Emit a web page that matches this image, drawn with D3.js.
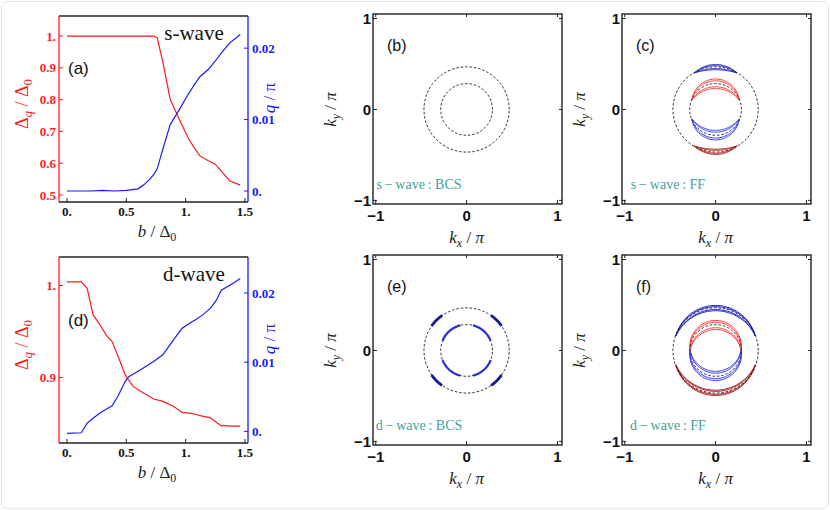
<!DOCTYPE html>
<html>
<head>
<meta charset="utf-8">
<script src="https://cdn.jsdelivr.net/npm/d3@7"></script>
<style>
  body { margin: 0; background: #fff; }
  text { font-family: "Liberation Serif", "DejaVu Serif", serif; }
  text.sans { font-family: "Liberation Sans", Arial, sans-serif; }
</style>
</head>
<body>
<svg id="fig" width="830" height="510"></svg>
<script>
// --- valeurs ---

// (a) s-wave : gap et q en fonction de b
const bS   = [0, 0.1, 0.2, 0.3, 0.4, 0.5, 0.6, 0.65, 0.7, 0.73, 0.76, 0.81, 0.87, 0.95, 1.02, 1.07, 1.12, 1.19, 1.25, 1.30, 1.37, 1.46];
const gapS = [1, 1, 1, 1, 1, 1, 1, 1, 1, 1, 0.995, 0.914, 0.80, 0.735, 0.68, 0.65, 0.623, 0.608, 0.597, 0.575, 0.545, 0.531];
const qS   = [0, 0, 0, 0.0001, 0, 0.0001, 0.0003, 0.0009, 0.0017, 0.0023, 0.0031, 0.006, 0.0093, 0.0115, 0.0135, 0.0148, 0.016, 0.017, 0.0182, 0.0193, 0.0207, 0.0219];

// (d) d-wave
const bD   = [0, 0.12, 0.17, 0.22, 0.28, 0.33, 0.38, 0.43, 0.49, 0.52, 0.56, 0.62, 0.73, 0.81, 0.90, 0.97, 1.05, 1.08, 1.14, 1.21, 1.26, 1.30, 1.40, 1.46];
const gapD = [1.004, 1.004, 0.997, 0.968, 0.957, 0.946, 0.939, 0.923, 0.903, 0.897, 0.890, 0.885, 0.8765, 0.874, 0.8685, 0.862, 0.861, 0.860, 0.858, 0.856, 0.851, 0.8475, 0.847, 0.847];
const qD   = [-0.0003, -0.0002, 0.0012, 0.0019, 0.0027, 0.0032, 0.0037, 0.0051, 0.0072, 0.0079, 0.0083, 0.0089, 0.0101, 0.0111, 0.0133, 0.0149, 0.0158, 0.0161, 0.0168, 0.0178, 0.0190, 0.0204, 0.0214, 0.0221];

// graduations
const bTicks = [0, 0.5, 1, 1.5];
const bTickLabels = ["0.", "0.5", "1.", "1.5"];
const gapTicksS = [0.5, 0.6, 0.7, 0.8, 0.9, 1.0];
const gapTickLabelsS = ["0.5", "0.6", "0.7", "0.8", "0.9", "1."];
const gapTicksD = [0.9, 1.0];
const gapTickLabelsD = ["0.9", "1."];
const qTicks = [0, 0.01, 0.02];
const qTickLabels = ["0.", "0.01", "0.02"];
const kTicks = [-1, 0, 1];
const kTickLabels = ["\u22121", "0", "1"];

// surfaces de Fermi (rayons en k/pi)
const fermiRadii = [0.285, 0.47];

// (e) arcs de poids spectral (angles en degres)
const arcsInnerE = [[22, 76], [104, 158], [-158, -104], [-76, -22]];
const arcsOuterE = [[35, 55], [125, 145], [-145, -125], [-55, -35]];

// (c) et (f) bandes FF : rayon, angle des extremites, sommets des lignes, cote
const bandsC = [
  { r: 0.28,  a0: 22, tops: [0.335, 0.315, 0.25, 0.23],  side: 1,  color: "#ff3838" },
  { r: 0.28,  a0: 22, tops: [0.335, 0.315, 0.25, 0.23],  side: -1, color: "#3838ff" },
  { r: 0.465, a0: 60, tops: [0.495, 0.482, 0.45, 0.437], side: 1,  color: "#2020c8" },
  { r: 0.465, a0: 60, tops: [0.495, 0.482, 0.45, 0.437], side: -1, color: "#b01c1c" }
];
const bandsF = [
  { r: 0.28,  a0: 0,  tops: [0.33, 0.31, 0.25, 0.23],    side: 1,  color: "#ff3838" },
  { r: 0.28,  a0: 0,  tops: [0.33, 0.31, 0.25, 0.23],    side: -1, color: "#3838ff" },
  { r: 0.465, a0: 20, tops: [0.495, 0.482, 0.45, 0.437], side: 1,  color: "#2020c8" },
  { r: 0.465, a0: 20, tops: [0.495, 0.482, 0.45, 0.437], side: -1, color: "#b01c1c" }
];

const RED = "#ff1a1a";
const BLUE = "#1a1aff";
const TEAL = "#3f9f9c";

const svg = d3.select("#fig");

// cadre gris arrondi autour de la figure
svg.append("rect")
  .attr("x", 1.5).attr("y", 1.5).attr("width", 827).attr("height", 507)
  .attr("rx", 6).attr("fill", "none").attr("stroke", "#e2e2e2");

const toRad = d => d * Math.PI / 180;

// ---------- panneaux de gauche ----------
function panneauGauche(cfg) {
  const x0 = 59, x1 = 248;
  const g = svg.append("g");
  const xs = d3.scaleLinear().domain([-0.0674, 1.5253]).range([x0, x1]);
  const yl = d3.scaleLinear().domain(cfg.gapDomain).range([cfg.y1, cfg.y0]);
  const yr = d3.scaleLinear().domain(cfg.qDomain).range([cfg.y1, cfg.y0]);

  // courbes
  const ligneGap = d3.line().x((d, i) => xs(cfg.b[i])).y(d => yl(d));
  const ligneQ = d3.line().x((d, i) => xs(cfg.b[i])).y(d => yr(d));
  g.append("path").attr("d", ligneGap(cfg.gap))
    .attr("fill", "none").attr("stroke", RED).attr("stroke-width", 1.2);
  g.append("path").attr("d", ligneQ(cfg.q))
    .attr("fill", "none").attr("stroke", BLUE).attr("stroke-width", 1.2);

  // cadre
  g.append("line").attr("x1", x0).attr("x2", x1).attr("y1", cfg.y0).attr("y2", cfg.y0).attr("stroke", "#222").attr("stroke-width", 1.3);
  g.append("line").attr("x1", x0).attr("x2", x1).attr("y1", cfg.y1).attr("y2", cfg.y1).attr("stroke", "#222").attr("stroke-width", 1.3);
  g.append("line").attr("x1", x0).attr("x2", x0).attr("y1", cfg.y0).attr("y2", cfg.y1).attr("stroke", RED).attr("stroke-width", 1.3);
  g.append("line").attr("x1", x1).attr("x2", x1).attr("y1", cfg.y0).attr("y2", cfg.y1).attr("stroke", BLUE).attr("stroke-width", 1.3);

  // graduations bas
  bTicks.forEach((t, i) => {
    g.append("line").attr("x1", xs(t)).attr("x2", xs(t)).attr("y1", cfg.y1).attr("y2", cfg.y1 - 4).attr("stroke", "#222");
    g.append("text").attr("x", xs(t)).attr("y", cfg.y1 + 14)
      .attr("text-anchor", "middle").attr("font-size", 13).attr("font-weight", "bold")
      .attr("fill", "#111").text(bTickLabels[i]);
  });
  // graduations gauche (gap)
  cfg.gapTicks.forEach((t, i) => {
    g.append("line").attr("x1", x0).attr("x2", x0 + 4).attr("y1", yl(t)).attr("y2", yl(t)).attr("stroke", RED);
    g.append("text").attr("x", x0 - 3).attr("y", yl(t)).attr("dy", "0.35em")
      .attr("text-anchor", "end").attr("font-size", 13).attr("font-weight", "bold")
      .attr("fill", RED).text(cfg.gapLabels[i]);
  });
  // graduations droite (q)
  qTicks.forEach((t, i) => {
    g.append("line").attr("x1", x1).attr("x2", x1 - 4).attr("y1", yr(t)).attr("y2", yr(t)).attr("stroke", BLUE);
    g.append("text").attr("x", x1 + 4).attr("y", yr(t)).attr("dy", "0.35em")
      .attr("text-anchor", "start").attr("font-size", 13).attr("font-weight", "bold")
      .attr("fill", BLUE).text(qTickLabels[i]);
  });

  // titres d'axes
  const tb = g.append("text").attr("x", 157).attr("y", cfg.y1 + 35)
    .attr("text-anchor", "middle").attr("font-size", 17).attr("fill", "#222");
  tb.append("tspan").attr("font-style", "italic").text("b");
  tb.append("tspan").text(" / \u0394");
  tb.append("tspan").attr("font-size", 12).attr("dy", 4).text("0");

  const ym = (cfg.y0 + cfg.y1) / 2;
  const tg = g.append("text").attr("transform", `translate(28,${ym - 5}) rotate(-90)`)
    .attr("text-anchor", "middle").attr("font-size", 18).attr("fill", RED);
  tg.append("tspan").text("\u0394");
  tg.append("tspan").attr("font-size", 13).attr("font-style", "italic").attr("dy", 4).text("q");
  tg.append("tspan").attr("dy", -4).text(" / \u0394");
  tg.append("tspan").attr("font-size", 13).attr("dy", 4).text("0");

  const tq = g.append("text").attr("transform", `translate(275,${ym - 11}) rotate(-90)`)
    .attr("text-anchor", "middle").attr("font-size", 17).attr("fill", BLUE);
  tq.append("tspan").attr("font-style", "italic").text("q");
  tq.append("tspan").text(" / \u03c0");

  // etiquettes
  g.append("text").attr("class", "sans").attr("x", 68).attr("y", cfg.y0 + cfg.tagDy)
    .attr("font-size", 17).attr("fill", "#111").text(cfg.tag);
  g.append("text").attr("x", 194).attr("y", cfg.y0 + 24)
    .attr("text-anchor", "middle").attr("font-size", 21).attr("fill", "#111").text(cfg.title);
}

panneauGauche({ y0: 16, y1: 202, b: bS, gap: gapS, q: qS,
  gapDomain: [0.478, 1.063], qDomain: [-0.00154, 0.0245],
  gapTicks: gapTicksS, gapLabels: gapTickLabelsS, tag: "(a)", tagDy: 58, title: "s-wave" });
panneauGauche({ y0: 257, y1: 443, b: bD, gap: gapD, q: qD,
  gapDomain: [0.8287, 1.031], qDomain: [-0.00168, 0.0252],
  gapTicks: gapTicksD, gapLabels: gapTickLabelsD, tag: "(d)", tagDy: 69, title: "d-wave" });

// ---------- panneaux k ----------
function arcBande(band, top, kx, ky) {
  // arc passant par les extremites (+-a, h) avec sommet en (0, top)
  const a = band.r * Math.cos(toRad(band.a0));
  const h = band.r * Math.sin(toRad(band.a0));
  const c = (top * top - h * h - a * a) / (2 * (top - h));
  const R = top - c;
  const p0 = Math.atan2(h - c, a);
  const pts = d3.range(0, 61).map(i => {
    const p = p0 + (Math.PI - 2 * p0) * i / 60;
    return [R * Math.cos(p), band.side * (c + R * Math.sin(p))];
  });
  return d3.line().x(d => kx(d[0])).y(d => ky(d[1]))(pts);
}

function arcCercle(r, a1, a2, kx, ky) {
  const pts = d3.range(0, 41).map(i => {
    const a = toRad(a1 + (a2 - a1) * i / 40);
    return [r * Math.cos(a), r * Math.sin(a)];
  });
  return d3.line().x(d => kx(d[0])).y(d => ky(d[1]))(pts);
}

function panneauK(cfg) {
  const W = 189, H = 190;
  const g = svg.append("g");
  const kx = d3.scaleLinear().domain([-1.03, 1.05]).range([cfg.x0, cfg.x0 + W]);
  const ky = d3.scaleLinear().domain([-1.04, 1.05]).range([cfg.y0 + H, cfg.y0]);

  // bandes FF
  (cfg.bands || []).forEach(band => {
    band.tops.forEach(t => {
      g.append("path").attr("d", arcBande(band, t, kx, ky))
        .attr("fill", "none").attr("stroke", band.color).attr("stroke-width", 1);
    });
  });

  // cercles de Fermi en tirets
  fermiRadii.forEach(r => {
    g.append("path").attr("d", arcCercle(r, 0, 360, kx, ky))
      .attr("fill", "none").attr("stroke", "#222").attr("stroke-width", 0.9)
      .attr("stroke-dasharray", "2.6,1.8");
  });

  // arcs BCS d-wave
  (cfg.arcsInner || []).forEach(a => {
    g.append("path").attr("d", arcCercle(fermiRadii[0], a[0], a[1], kx, ky))
      .attr("fill", "none").attr("stroke", "#2828e0").attr("stroke-width", 2.2);
  });
  (cfg.arcsOuter || []).forEach(a => {
    g.append("path").attr("d", arcCercle(fermiRadii[1], a[0], a[1], kx, ky))
      .attr("fill", "none").attr("stroke", "#181890").attr("stroke-width", 2.8);
  });

  // cadre
  g.append("rect").attr("x", cfg.x0).attr("y", cfg.y0).attr("width", W).attr("height", H)
    .attr("fill", "none").attr("stroke", "#222").attr("stroke-width", 1.4);

  // graduations
  kTicks.forEach((t, i) => {
    g.append("line").attr("x1", kx(t)).attr("x2", kx(t)).attr("y1", cfg.y0 + H).attr("y2", cfg.y0 + H - 4).attr("stroke", "#222");
    g.append("line").attr("x1", kx(t)).attr("x2", kx(t)).attr("y1", cfg.y0).attr("y2", cfg.y0 + 3).attr("stroke", "#222");
    g.append("line").attr("x1", cfg.x0).attr("x2", cfg.x0 + 4).attr("y1", ky(t)).attr("y2", ky(t)).attr("stroke", "#222");
    g.append("line").attr("x1", cfg.x0 + W).attr("x2", cfg.x0 + W - 3).attr("y1", ky(t)).attr("y2", ky(t)).attr("stroke", "#222");
    g.append("text").attr("class", "sans").attr("x", kx(t)).attr("y", cfg.y0 + H + 17)
      .attr("text-anchor", "middle")
      .attr("font-size", 15).attr("font-weight", "bold").attr("fill", "#111").text(kTickLabels[i]);
    g.append("text").attr("class", "sans").attr("x", cfg.x0 - 2).attr("y", ky(t)).attr("dy", "0.36em")
      .attr("text-anchor", "end")
      .attr("font-size", 15).attr("font-weight", "bold").attr("fill", "#111").text(kTickLabels[i]);
  });

  // titres d'axes
  const tx = g.append("text").attr("x", kx(0)).attr("y", cfg.y0 + 229)
    .attr("text-anchor", "middle").attr("font-size", 17).attr("fill", "#222");
  tx.append("tspan").attr("font-style", "italic").text("k");
  tx.append("tspan").attr("font-style", "italic").attr("font-size", 12).attr("dy", 4).text("x");
  tx.append("tspan").attr("dy", -4).text(" / ");
  tx.append("tspan").attr("font-style", "italic").text("\u03c0");

  const tyy = g.append("text").attr("transform", `translate(${cfg.x0 - 37},${ky(0)}) rotate(-90)`)
    .attr("text-anchor", "middle").attr("font-size", 17).attr("fill", "#222");
  tyy.append("tspan").attr("font-style", "italic").text("k");
  tyy.append("tspan").attr("font-style", "italic").attr("font-size", 12).attr("dy", 4).text("y");
  tyy.append("tspan").attr("dy", -4).text(" / ");
  tyy.append("tspan").attr("font-style", "italic").text("\u03c0");

  // etiquettes
  g.append("text").attr("class", "sans").attr("x", cfg.x0 + 14).attr("y", cfg.y0 + 37)
    .attr("font-size", 16).attr("fill", "#111").text(cfg.tag);
  g.append("text").attr("x", cfg.x0 + 46).attr("y", cfg.y0 + 175)
    .attr("text-anchor", "middle").attr("font-size", 14).attr("fill", TEAL).text(cfg.note);
}

panneauK({ x0: 373, y0: 14, tag: "(b)", note: "s\u2009\u2212\u2009wave\u2009: BCS" });
panneauK({ x0: 622, y0: 14, tag: "(c)", note: "s\u2009\u2212\u2009wave\u2009: FF", bands: bandsC });
panneauK({ x0: 373, y0: 255, tag: "(e)", note: "d\u2009\u2212\u2009wave\u2009: BCS", arcsInner: arcsInnerE, arcsOuter: arcsOuterE });
panneauK({ x0: 622, y0: 255, tag: "(f)", note: "d\u2009\u2212\u2009wave\u2009: FF", bands: bandsF });
</script>
</body>
</html>
